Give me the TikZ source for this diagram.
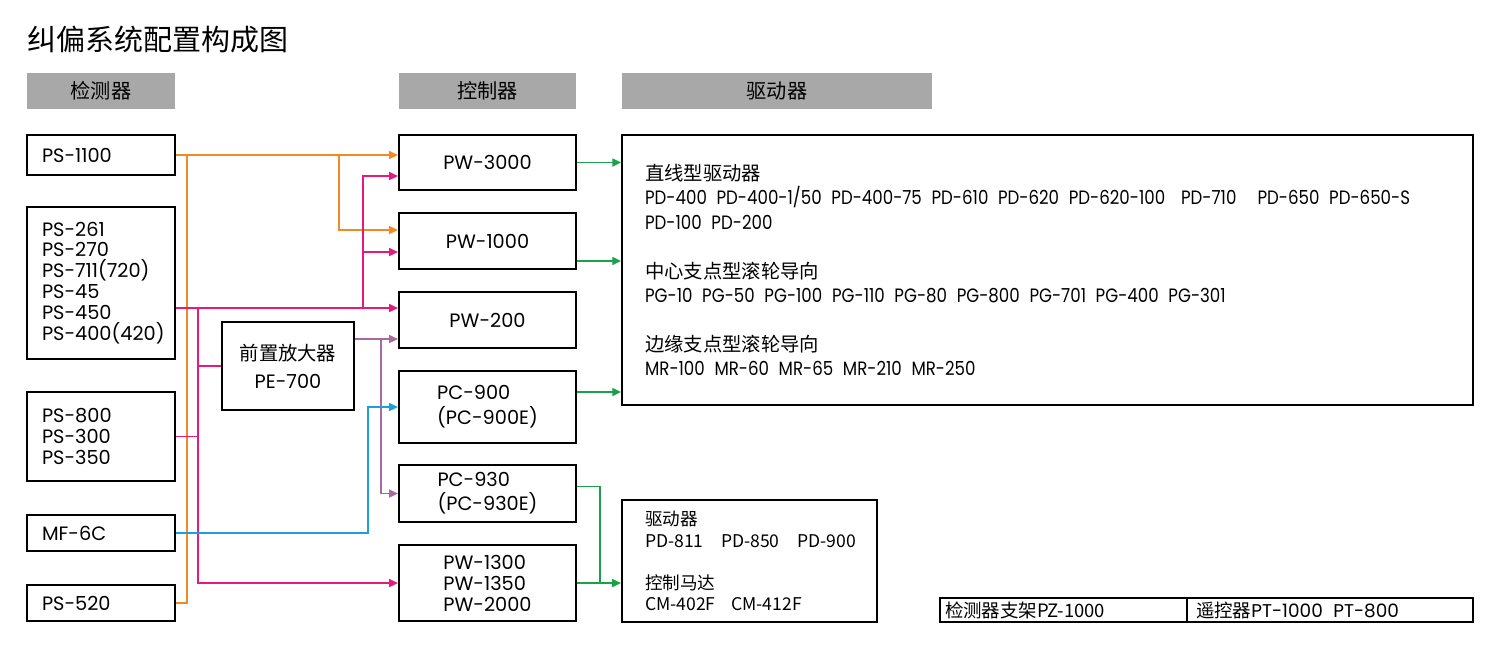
\documentclass[tikz,border=0pt]{standalone}
\usepackage{fontspec}
\setmainfont{Poppins}
\newfontfamily\cjk{Noto Sans CJK SC}
\newfontfamily\narrow[FakeStretch=0.86]{Poppins}
\usetikzlibrary{arrows.meta,calc,positioning}

\definecolor{wireorange}{HTML}{F08A24}
\definecolor{wirepink}{HTML}{E6197D}
\definecolor{wiremauve}{HTML}{A9689F}
\definecolor{wireblue}{HTML}{1C9FDB}
\definecolor{wiregreen}{HTML}{19A24A}
\definecolor{headgray}{HTML}{A8A8A8}

\begin{document}
\begin{tikzpicture}[x=0.02cm,y=-0.02cm,
        box/.style={draw, line width=1.2pt, inner sep=0pt},
        headbox/.style={fill=headgray, minimum width=#1, minimum height=0.72cm, font=\fontsize{11.5}{13}\cjk},
        detbox/.style={box, minimum height=#1, text width=2.36cm, inner xsep=0.3cm, align=left, font=\fontsize{11}{11.9}\selectfont},
        ctrlbox/.style={box, minimum height=#1, minimum width=3.54cm, align=left, font=\fontsize{11}{11.9}\selectfont},
        wire/.style={line width=1.1pt},
        feed/.style={wire, -{Triangle[length=5pt,width=4.5pt]}}]
        \useasboundingbox (0,0) rectangle (1500,647);

        \node[anchor=west, inner sep=0pt, font=\fontsize{16.5}{18}\cjk] (title) at (27,40) {纠偏系统配置构成图};

        \node[headbox=2.96cm] (dethead) at (101,91) {检测器};
        \node[headbox=3.54cm] (ctrlhead) at (487.5,91) {控制器};
        \node[headbox=6.2cm] (drvhead) at (777,91) {驱动器};

        \node[detbox=0.8cm] (ps1100) at (101,155) {PS-1100};
        \node[detbox=3.04cm] (ps261) at (101,283) {PS-261\\PS-270\\PS-711(720)\\PS-45\\PS-450\\\mbox{PS-400(420)}};
        \node[detbox=1.78cm] (ps800) at (101,436.5) {PS-800\\PS-300\\PS-350};
        \node[detbox=0.72cm] (mf6c) at (101,533) {MF-6C};
        \node[detbox=0.72cm] (ps520) at (101,603) {PS-520};

        \node[box, minimum width=2.64cm, minimum height=1.76cm, align=center, font=\fontsize{11}{11.9}\selectfont] (preamp) at (288,366) {{\cjk 前置放大器}\\[4pt]PE-700};

        \node[ctrlbox=1.1cm] (pw3000) at (487.5,162.5) {PW-3000};
        \node[ctrlbox=1.12cm] (pw1000) at (487.5,241) {PW-1000};
        \node[ctrlbox=1.12cm] (pw200) at (487.5,320) {PW-200};
        \node[ctrlbox=1.44cm] (pc900) at (487.5,407) {PC-900\\[2.3pt](PC-900E)};
        \node[ctrlbox=1.14cm] (pc930) at (487.5,493.5) {PC-930\\[1.7pt](PC-930E)};
        \node[ctrlbox=1.52cm] (pw1300) at (487.5,583) {PW-1300\\PW-1350\\PW-2000};

        \node[box, minimum height=5.4cm, text width=16.1cm, inner xsep=0.46cm, align=left, font=\fontsize{11}{13.9}\narrow] (drvbox) at (1047.5,270) {%
            \spaceskip=5.5pt\relax
            {\cjk 直线型驱动器}\\
            \mbox{PD-400 PD-400-1/50 PD-400-75 PD-610 PD-620 PD-620-100\hspace{9pt}PD-710\hspace{12pt}PD-650 PD-650-S}\\
            PD-100 PD-200\\[13.9pt]
            {\cjk 中心支点型滚轮导向}\\
            PG-10 PG-50 PG-100 PG-110 PG-80 PG-800 PG-701 PG-400 PG-301\\[13.9pt]
            {\cjk 边缘支点型滚轮导向}\\
            MR-100 MR-60 MR-65 MR-210 MR-250};

        \node[box, minimum height=2.44cm, text width=4.18cm, inner xsep=0.46cm, align=left, font=\fontsize{10}{12}\cjk] (motorbox) at (749.5,561) {%
            驱动器\\
            \mbox{PD-811\hspace{10pt}PD-850\hspace{10pt}PD-900}\\[12pt]
            控制马达\\
            \mbox{CM-402F\hspace{9pt}CM-412F}};

        \node[box, minimum height=0.48cm, text width=4.74cm, inner xsep=0.1cm, align=left, font=\fontsize{10.5}{12}\cjk] (stand) at (1063.5,610) {检测器支架PZ-1000};
        \node[box, minimum height=0.48cm, text width=5.36cm, inner xsep=0.18cm, align=left, font=\fontsize{10.5}{12}\selectfont] (remote) at (1330,610) {{\cjk 遥控器}PT-1000\hspace{6pt}PT-800};

        \draw[feed, wireorange] (ps1100.east) -- (ps1100.east -| pw3000.west);
        \coordinate (obranch) at (339,155);
        \draw[feed, wireorange] (obranch) |- ($(pw1000.west)+(0,-11)$);
        \coordinate (obus) at (187,155);
        \draw[wire, wireorange] (ps520.east) -| (obus);

        \coordinate (pinkout) at ($(ps261.east)+(0,25)$);
        \draw[feed, wirepink] (pinkout) -- (pinkout -| pw200.west);
        \coordinate (pinkup) at (363,308);
        \draw[feed, wirepink] (pinkup) |- ($(pw3000.west)+(0,13.5)$);
        \coordinate (pw1000in) at ($(pw1000.west)+(0,11)$);
        \draw[feed, wirepink] (pinkup |- pw1000in) -- (pw1000in);
        \coordinate (pinkbus) at (198,308);
        \draw[feed, wirepink] (pinkbus) |- (pw1300.west);
        \draw[wire, wirepink] (ps800.east) -- (ps800.east -| pinkbus);
        \draw[wire, wirepink] (preamp.west -| pinkbus) -- (preamp.west);

        \coordinate (peout) at ($(preamp.east)+(0,-27)$);
        \draw[feed, wiremauve] (peout) -- (peout -| pw200.west);
        \coordinate (mauvedown) at (381,339);
        \draw[feed, wiremauve] (mauvedown) |- (pc930.west);

        \coordinate (blueturn) at (368,533);
        \draw[feed, wireblue] (mf6c.east) -- (blueturn) |- (pc900.west);

        \draw[feed, wiregreen] (pw3000.east) -- (pw3000.east -| drvbox.west);
        \coordinate (pw1000out) at ($(pw1000.east)+(0,20)$);
        \draw[feed, wiregreen] (pw1000out) -- (pw1000out -| drvbox.west);
        \coordinate (pc900out) at ($(pc900.east)+(0,-15)$);
        \draw[feed, wiregreen] (pc900out) -- (pc900out -| drvbox.west);
        \coordinate (gjoin) at (600,583);
        \draw[wire, wiregreen] ($(pc930.east)+(0,-7)$) -| (gjoin);
        \draw[feed, wiregreen] (pw1300.east) -- (pw1300.east -| motorbox.west);
\end{tikzpicture}
\end{document}
